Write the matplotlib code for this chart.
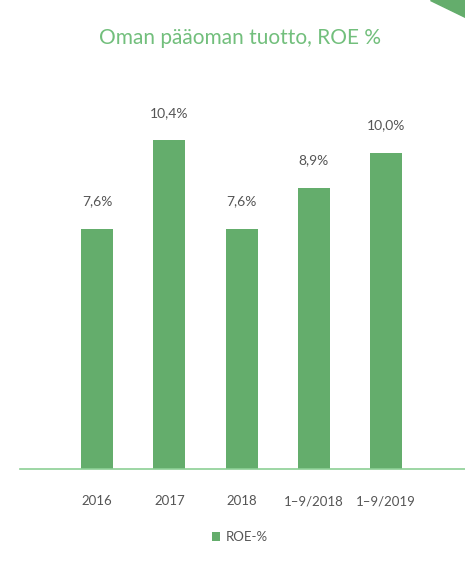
import matplotlib.pyplot as plt
from matplotlib.patches import Polygon

plt.rcParams['font.family'] = ['Lato', 'DejaVu Sans']

categories = ["2016", "2017", "2018", "1\u20139/2018", "1\u20139/2019"]
roe = [7.6, 10.4, 7.6, 8.9, 10.0]
labels = ["7,6%", "10,4%", "7,6%", "8,9%", "10,0%"]

barColor = "#64ad6c"
lineColor = "#8ccf95"
titleColor = "#72bf7c"
textColor = "#555555"

W, H = 465, 570
fig = plt.figure(figsize=(W / 100, H / 100), dpi=100)

# axes placed in pixel terms: left 20, right 465, baseline y=469, top y=60
ax = fig.add_axes([20 / W, (H - 469) / H, 445 / W, (469 - 60) / H])
x = list(range(len(categories)))
ax.bar(x, roe, width=0.44, color=barColor, label="ROE-%", zorder=2)
for xi, v, lab in zip(x, roe, labels):
    ax.text(xi, v + 0.68, lab, ha="center", va="bottom", fontsize=10, color=textColor)

ax.set_xlim(-1.066, 5.09)
ax.set_ylim(0, 12.94)
ax.set_yticks([])
ax.set_xticks(x)
ax.set_xticklabels(categories, fontsize=9.5, color=textColor)
ax.tick_params(axis="x", length=0, pad=19)
for side in ["top", "right", "left"]:
    ax.spines[side].set_visible(False)
ax.spines["bottom"].set_color(lineColor)
ax.spines["bottom"].set_linewidth(1.2)

leg = fig.legend(loc="center", bbox_to_anchor=(240 / W, 1 - 537 / H), frameon=False,
                 fontsize=9.5, handlelength=0.6, handleheight=0.6, handletextpad=0.5)
for t in leg.get_texts():
    t.set_color(textColor)

fig.text(240 / W, 1 - 38 / H, "Oman pääoman tuotto, ROE %", ha="center", va="center",
         fontsize=15, color=titleColor)

corner = Polygon([(430 / W, 1.0), (1.0, 1.0), (1.0, 1 - 17 / H)], closed=True,
                 transform=fig.transFigure, color=barColor)
fig.patches.append(corner)

fig.savefig("out.png", dpi=100)
